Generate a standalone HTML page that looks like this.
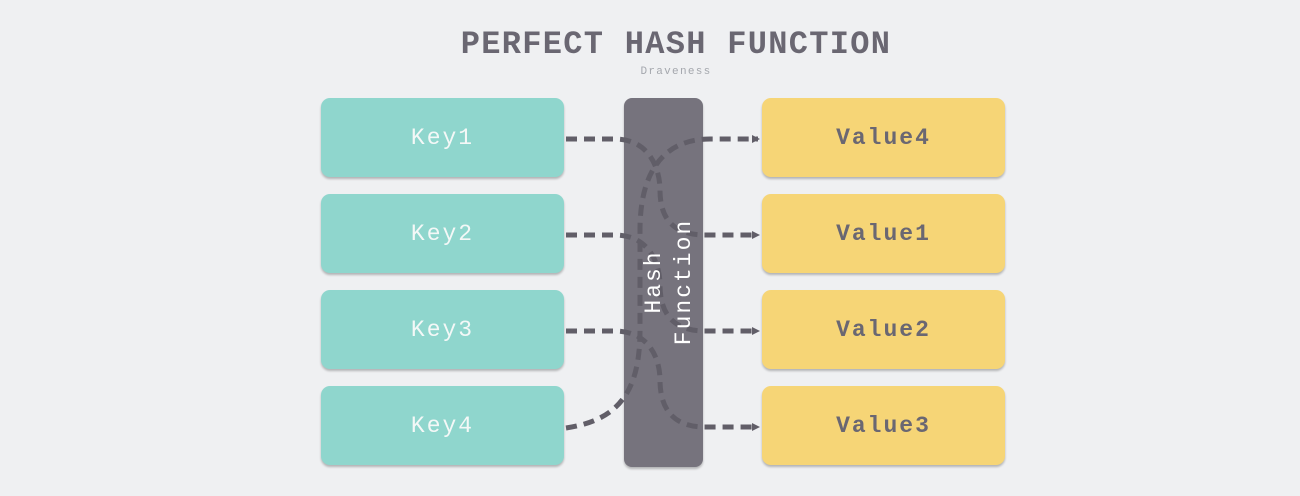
<!DOCTYPE html>
<html><head><meta charset="utf-8"><style>
body{margin:0;width:1300px;height:496px;background:#eff0f2;overflow:hidden;font-family:"Liberation Mono",monospace;position:relative}
.t{position:absolute;left:0;width:1300px;text-align:center}
.b{position:absolute;border-radius:9px;box-shadow:0 2px 2px rgba(0,0,0,.25);display:flex;align-items:center;justify-content:center;font-size:23px;letter-spacing:2px}
.k{left:321px;width:243px;height:79px;background:#8fd6cd;color:#f4f8f7}
.v{left:762px;width:243px;height:79px;background:#f6d576;color:#6a6772;font-weight:bold}
</style></head><body>
<div class="t" style="top:26px;font-size:32px;font-weight:bold;color:#6a6772;letter-spacing:1.3px;padding-left:26px">PERFECT HASH FUNCTION</div>
<div class="t" style="top:66px;font-size:11px;color:#a4a7ad;letter-spacing:1.3px;padding-left:26px">Draveness</div>
<div class="b k" style="top:98px">Key1</div>
<div class="b k" style="top:194px">Key2</div>
<div class="b k" style="top:290px">Key3</div>
<div class="b k" style="top:386px">Key4</div>
<div class="b v" style="top:98px">Value4</div>
<div class="b v" style="top:194px">Value1</div>
<div class="b v" style="top:290px">Value2</div>
<div class="b v" style="top:386px">Value3</div>
<div style="position:absolute;left:624px;top:98px;width:79px;height:369px;background:#76737d;border-radius:8px;box-shadow:0 2px 2px rgba(0,0,0,.25)"></div>
<svg style="position:absolute;left:0;top:0" width="1300" height="496">
<defs><marker id="a" markerWidth="8" markerHeight="8" refX="6" refY="4" orient="auto" markerUnits="userSpaceOnUse"><path d="M0,0 L8,4 L0,8 z" fill="#615e68"/></marker></defs>
<g fill="none" stroke="#615e68" stroke-width="5" stroke-dasharray="11,7">
<path d="M566,139 L615,139 C650,139 660,170 660,190 C660,215 670,235 705,235 L758,235" marker-end="url(#a)"/>
<path d="M566,235 L615,235 C650,235 660,265 660,285 C660,310 670,331 705,331 L758,331" marker-end="url(#a)"/>
<path d="M566,331 L615,331 C650,331 660,360 660,380 C660,405 670,427 705,427 L758,427" marker-end="url(#a)"/>
<path d="M566,428 C620,420 640,390 640,330 L640,230 C640,170 665,139 710,139 L758,139" marker-end="url(#a)"/>
</g>
<text transform="translate(660,282) rotate(-90)" text-anchor="middle" font-family="Liberation Mono,monospace" font-size="23" fill="#fff" letter-spacing="2">Hash</text>
<text transform="translate(690,282) rotate(-90)" text-anchor="middle" font-family="Liberation Mono,monospace" font-size="23" fill="#fff" letter-spacing="2">Function</text>
</svg>
</body></html>
